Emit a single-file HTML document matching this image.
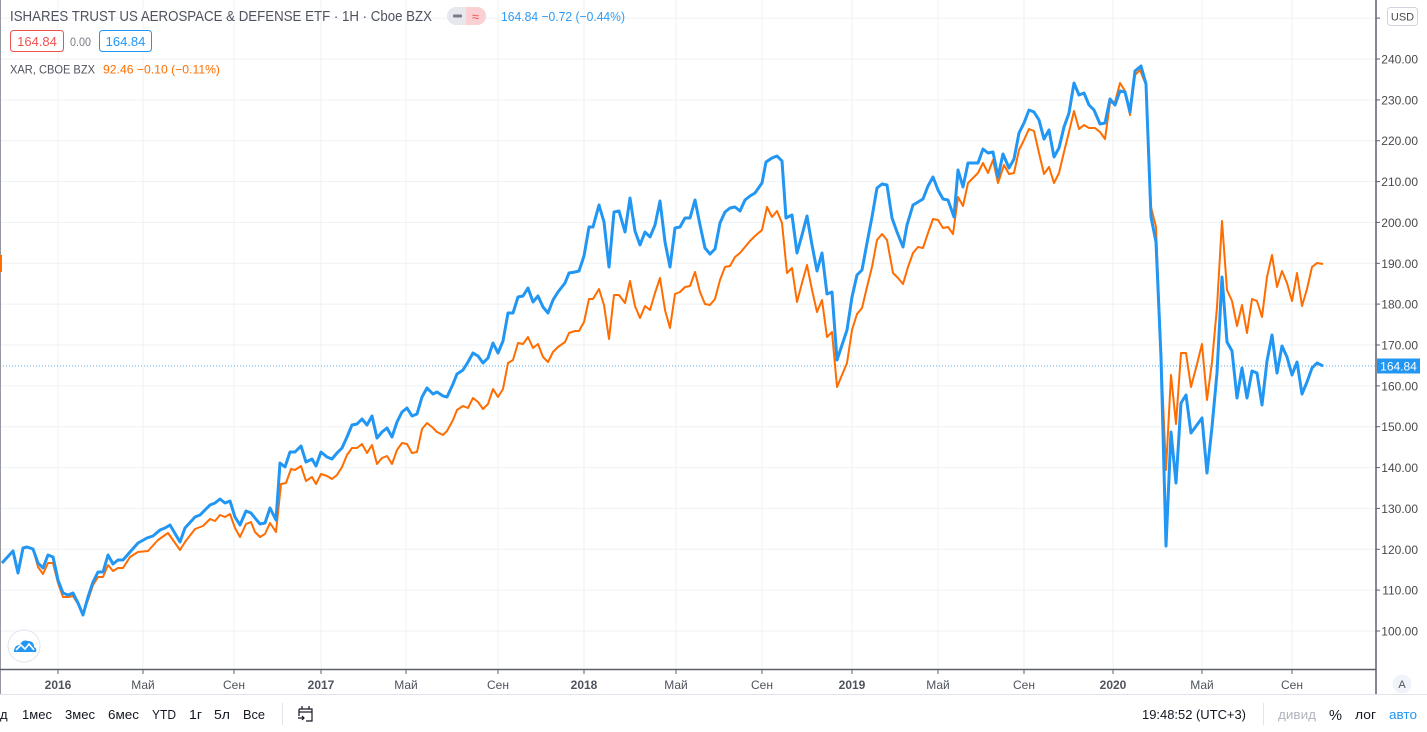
<!DOCTYPE html>
<html><head><meta charset="utf-8"><style>
html,body{margin:0;padding:0;background:#fff;}
svg{display:block;font-family:"Liberation Sans",sans-serif;}
</style></head><body>
<svg width="1427" height="732" viewBox="0 0 1427 732" xmlns="http://www.w3.org/2000/svg">
<rect x="0" y="0" width="1427" height="732" fill="#fff"/>
<!-- grid -->
<g stroke="#edf1f6" stroke-width="1">
<line x1="0" y1="18.1" x2="1376" y2="18.1"/>
<line x1="0" y1="59" x2="1376" y2="59"/>
<line x1="0" y1="99.9" x2="1376" y2="99.9"/>
<line x1="0" y1="140.7" x2="1376" y2="140.7"/>
<line x1="0" y1="181.6" x2="1376" y2="181.6"/>
<line x1="0" y1="222.4" x2="1376" y2="222.4"/>
<line x1="0" y1="263.3" x2="1376" y2="263.3"/>
<line x1="0" y1="304.1" x2="1376" y2="304.1"/>
<line x1="0" y1="345" x2="1376" y2="345"/>
<line x1="0" y1="385.9" x2="1376" y2="385.9"/>
<line x1="0" y1="426.7" x2="1376" y2="426.7"/>
<line x1="0" y1="467.6" x2="1376" y2="467.6"/>
<line x1="0" y1="508.4" x2="1376" y2="508.4"/>
<line x1="0" y1="549.3" x2="1376" y2="549.3"/>
<line x1="0" y1="590.1" x2="1376" y2="590.1"/>
<line x1="0" y1="631" x2="1376" y2="631"/>
<line x1="58" y1="0" x2="58" y2="669"/>
<line x1="143" y1="0" x2="143" y2="669"/>
<line x1="234" y1="0" x2="234" y2="669"/>
<line x1="321" y1="0" x2="321" y2="669"/>
<line x1="406" y1="0" x2="406" y2="669"/>
<line x1="498" y1="0" x2="498" y2="669"/>
<line x1="584" y1="0" x2="584" y2="669"/>
<line x1="676" y1="0" x2="676" y2="669"/>
<line x1="762" y1="0" x2="762" y2="669"/>
<line x1="852" y1="0" x2="852" y2="669"/>
<line x1="938" y1="0" x2="938" y2="669"/>
<line x1="1024" y1="0" x2="1024" y2="669"/>
<line x1="1113" y1="0" x2="1113" y2="669"/>
<line x1="1202" y1="0" x2="1202" y2="669"/>
<line x1="1292" y1="0" x2="1292" y2="669"/>
</g>
<!-- price line -->
<line x1="0" y1="366" x2="1376" y2="366" stroke="#2196f3" stroke-width="1" stroke-dasharray="1 2" opacity="0.8"/>
<!-- orange series -->
<polyline fill="none" stroke="#ff6d00" stroke-width="2" stroke-linejoin="round" points="2,563 13,551 18,570 23,548 27,547 33,549 38,567 43,574 48,563 53,563 58,583 63,597 68,597 73,596 78,604 83,613 88,600 93,585 98,577 103,577 108,565 113,571 118,568 123,568 130,557 138,552 148,551 158,540 168,533 180,550 185,542 195,529 203,526 210,519 215,521 220,515 225,517 230,514 235,528 240,537 246,524 251,522 255,532 260,537 265,534 270,523 276,532 281,484 286,483 291,469 295,470 301,466 306,481 312,477 316,484 321,474 327,476 332,479 337,475 342,467 347,455 352,448 357,448 362,444 367,453 372,445 377,464 382,458 387,456 392,464 397,450 402,443 407,444 412,453 417,452 422,429 427,423 432,427 437,432 443,435 447,431 453,420 457,410 463,406 468,408 473,398 478,402 483,409 488,404 493,389 498,397 503,389 508,363 513,360 518,343 523,344 528,337 533,348 538,344 543,357 548,362 553,352 558,347 565,342 569,333 575,331 579,331 584,322 589,299 593,299 599,289 604,305 609,339 614,295 619,295 625,303 630,281 635,306 640,318 645,306 650,310 655,293 660,278 665,310 670,328 675,294 680,292 685,287 690,286 695,272 700,292 705,304 710,305 715,299 720,280 725,267 730,266 735,257 740,253 745,247 750,241 755,236 762,230 767,207 772,217 777,211 782,223 787,273 792,268 797,302 802,283 807,265 812,290 817,312 822,300 827,337 832,332 837,387 842,375 847,363 852,330 857,314 862,308 867,287 872,267 877,240 882,234 887,240 893,273 898,278 903,284 908,267 913,253 918,247 923,248 928,233 933,219 938,220 943,228 948,227 953,234 958,197 963,206 968,183 973,178 978,173 983,163 988,173 993,160 998,183 1004,165 1009,174 1014,173 1019,150 1024,140 1029,129 1034,131 1039,153 1044,174 1049,167 1054,183 1059,173 1064,152 1069,132 1074,111 1079,129 1084,125 1089,128 1095,128 1100,132 1105,139 1110,103 1115,102 1120,83 1125,91 1130,115 1135,75 1140,70 1146,85 1151,207 1156,227 1161,355 1166,470 1171,375 1176,424 1181,353 1186,353 1191,387 1196,368 1202,344 1207,400 1212,362 1217,307 1222,221 1227,290 1232,301 1237,326 1242,305 1247,333 1252,299 1257,301 1262,317 1267,277 1272,255 1277,287 1282,271 1287,283 1292,301 1297,273 1302,306 1307,289 1312,267 1317,263 1323,264"/>
<!-- blue series -->
<polyline fill="none" stroke="#2196f3" stroke-width="3" stroke-linejoin="round" points="2,563 13,551 18,573 23,548 27,547 33,549 38,563 43,568 48,555 53,557 58,580 63,593 68,595 73,593 78,603 83,615 88,597 93,582 98,572 103,572 108,555 113,564 118,560 123,560 130,552 138,543 147,538 153,536 160,530 165,528 170,525 180,542 185,528 195,517 200,515 210,505 215,503 220,499 225,503 230,501 235,517 240,525 246,511 251,513 255,518 260,524 265,523 270,508 276,520 280,463 285,467 290,452 295,452 301,446 306,462 312,459 316,466 321,452 327,457 332,459 337,453 342,448 347,437 352,425 357,424 362,419 367,425 372,416 377,438 382,432 387,428 392,437 397,422 402,412 407,408 412,416 417,414 422,397 427,388 433,394 437,392 443,396 447,397 453,384 457,374 463,370 468,362 473,353 478,356 483,363 488,358 493,343 498,353 503,341 508,313 513,313 518,297 523,296 528,288 533,302 538,296 543,307 548,313 553,300 558,292 565,283 569,273 575,272 579,271 584,256 589,227 593,227 599,205 604,222 609,267 614,212 619,211 625,232 630,198 635,231 640,245 645,232 650,237 655,225 660,201 665,242 670,267 675,228 680,227 685,218 690,218 695,200 700,225 705,248 710,254 715,249 720,223 725,212 730,208 735,207 740,211 745,200 750,196 755,193 762,183 766,162 772,158 777,156 782,161 786,218 792,215 797,253 802,235 807,216 812,245 817,271 822,253 827,294 832,292 837,360 842,345 847,330 852,297 857,275 862,270 867,243 872,217 877,188 882,184 887,185 892,218 897,232 903,247 907,225 913,205 918,202 923,199 928,186 933,177 938,190 943,199 948,200 954,217 958,170 963,187 968,163 973,163 978,163 983,149 988,153 993,152 998,177 1003,154 1009,168 1014,159 1019,133 1024,123 1029,110 1034,112 1039,120 1044,139 1049,130 1054,157 1059,148 1064,127 1069,113 1074,83 1079,95 1084,93 1089,105 1094,110 1100,124 1105,123 1110,99 1115,105 1120,91 1125,92 1130,112 1135,71 1141,66 1146,84 1151,217 1156,242 1161,357 1166,546 1171,432 1176,483 1181,403 1186,395 1191,433 1202,418 1207,473 1212,427 1217,373 1222,277 1227,342 1232,351 1237,398 1242,368 1247,398 1252,371 1257,373 1262,405 1267,361 1272,335 1277,373 1282,346 1287,357 1292,375 1297,362 1302,394 1307,382 1312,368 1317,363 1323,366"/>
<!-- left border + marker -->
<line x1="0.5" y1="0" x2="0.5" y2="694" stroke="#9598a1" stroke-width="1"/>
<rect x="0" y="255" width="2" height="17" fill="#ff6d00"/>
<!-- axes -->
<line x1="0" y1="669.5" x2="1376" y2="669.5" stroke="#5d606b" stroke-width="1.5"/>
<line x1="1376" y1="0" x2="1376" y2="694" stroke="#5d606b" stroke-width="1.5"/>
<line x1="0" y1="694.5" x2="1427" y2="694.5" stroke="#e0e3eb" stroke-width="1"/>
<!-- time ticks -->
<g stroke="#5d606b" stroke-width="1">
<line x1="58" y1="669" x2="58" y2="674"/><line x1="143" y1="669" x2="143" y2="674"/><line x1="234" y1="669" x2="234" y2="674"/><line x1="321" y1="669" x2="321" y2="674"/><line x1="406" y1="669" x2="406" y2="674"/><line x1="498" y1="669" x2="498" y2="674"/><line x1="584" y1="669" x2="584" y2="674"/><line x1="676" y1="669" x2="676" y2="674"/><line x1="762" y1="669" x2="762" y2="674"/><line x1="852" y1="669" x2="852" y2="674"/><line x1="938" y1="669" x2="938" y2="674"/><line x1="1024" y1="669" x2="1024" y2="674"/><line x1="1113" y1="669" x2="1113" y2="674"/><line x1="1202" y1="669" x2="1202" y2="674"/><line x1="1292" y1="669" x2="1292" y2="674"/>
</g>
<g font-size="12" fill="#50535e" text-anchor="middle">
<text x="58" y="689" font-weight="bold">2016</text>
<text x="143" y="689">Май</text>
<text x="234" y="689">Сен</text>
<text x="321" y="689" font-weight="bold">2017</text>
<text x="406" y="689">Май</text>
<text x="498" y="689">Сен</text>
<text x="584" y="689" font-weight="bold">2018</text>
<text x="676" y="689">Май</text>
<text x="762" y="689">Сен</text>
<text x="852" y="689" font-weight="bold">2019</text>
<text x="938" y="689">Май</text>
<text x="1024" y="689">Сен</text>
<text x="1113" y="689" font-weight="bold">2020</text>
<text x="1202" y="689">Май</text>
<text x="1292" y="689">Сен</text>
</g>
<!-- price ticks -->
<g stroke="#5d606b" stroke-width="1">
<line x1="1376" y1="59" x2="1380" y2="59"/><line x1="1376" y1="99.9" x2="1380" y2="99.9"/><line x1="1376" y1="140.7" x2="1380" y2="140.7"/><line x1="1376" y1="181.6" x2="1380" y2="181.6"/><line x1="1376" y1="222.4" x2="1380" y2="222.4"/><line x1="1376" y1="263.3" x2="1380" y2="263.3"/><line x1="1376" y1="304.1" x2="1380" y2="304.1"/><line x1="1376" y1="345" x2="1380" y2="345"/><line x1="1376" y1="385.9" x2="1380" y2="385.9"/><line x1="1376" y1="426.7" x2="1380" y2="426.7"/><line x1="1376" y1="467.6" x2="1380" y2="467.6"/><line x1="1376" y1="508.4" x2="1380" y2="508.4"/><line x1="1376" y1="549.3" x2="1380" y2="549.3"/><line x1="1376" y1="590.1" x2="1380" y2="590.1"/><line x1="1376" y1="631" x2="1380" y2="631"/><line x1="1376" y1="18.1" x2="1380" y2="18.1"/>
</g>
<g font-size="12" fill="#4a4a4a" text-anchor="end">
<text x="1418" y="63.5">240.00</text>
<text x="1418" y="104.4">230.00</text>
<text x="1418" y="145.2">220.00</text>
<text x="1418" y="186.1">210.00</text>
<text x="1418" y="226.9">200.00</text>
<text x="1418" y="267.8">190.00</text>
<text x="1418" y="308.6">180.00</text>
<text x="1418" y="349.5">170.00</text>
<text x="1418" y="390.4">160.00</text>
<text x="1418" y="431.2">150.00</text>
<text x="1418" y="472.1">140.00</text>
<text x="1418" y="512.9">130.00</text>
<text x="1418" y="553.8">120.00</text>
<text x="1418" y="594.6">110.00</text>
<text x="1418" y="635.5">100.00</text>
</g>
<!-- current price label -->
<rect x="1377" y="358.5" width="43" height="15" fill="#2196f3"/>
<text x="1398.5" y="370.5" font-size="12" fill="#fff" text-anchor="middle">164.84</text>
<!-- USD -->
<rect x="1387.5" y="7.5" width="30" height="18" rx="3" fill="#fff" stroke="#d1d4dc"/>
<text x="1402.5" y="20.5" font-size="11" fill="#4a4a4a" text-anchor="middle">USD</text>
<!-- A circle -->
<circle cx="1402" cy="684" r="9.5" fill="#f0f3fa"/>
<text x="1402" y="688" font-size="11" fill="#50535e" text-anchor="middle">A</text>
<!-- header -->
<text x="10" y="21" font-size="15" fill="#50535e" textLength="422" lengthAdjust="spacingAndGlyphs">ISHARES TRUST US AEROSPACE &amp; DEFENSE ETF · 1H · Cboe BZX</text>
<rect x="447" y="7" width="39" height="18" rx="9" fill="#e6e8ee"/>
<path d="M466 7 H477 A9 9 0 0 1 477 25 H466 Z" fill="#fbd0d3"/>
<rect x="453" y="14.5" width="9" height="3" rx="1" fill="#787b86"/>
<text x="475.5" y="21" font-size="13" fill="#ef5350" text-anchor="middle">≈</text>
<text x="501" y="21" font-size="13" fill="#2f9bf3" textLength="124" lengthAdjust="spacingAndGlyphs">164.84 −0.72 (−0.44%)</text>
<rect x="10.5" y="30.5" width="53" height="21" rx="3" fill="#fff" stroke="#ef5350"/>
<text x="37" y="46" font-size="13" fill="#ef5350" text-anchor="middle">164.84</text>
<text x="70" y="46" font-size="12" fill="#787b86" textLength="21" lengthAdjust="spacingAndGlyphs">0.00</text>
<rect x="99.5" y="30.5" width="52" height="21" rx="3" fill="#fff" stroke="#2196f3"/>
<text x="125.5" y="46" font-size="13" fill="#2196f3" text-anchor="middle">164.84</text>
<text x="10" y="73.5" font-size="12" fill="#50535e" textLength="85" lengthAdjust="spacingAndGlyphs">XAR, CBOE BZX</text>
<text x="103" y="73.5" font-size="12" fill="#ff6d00" textLength="117" lengthAdjust="spacingAndGlyphs">92.46 −0.10 (−0.11%)</text>
<!-- logo -->
<circle cx="24" cy="646" r="16" fill="#fff" stroke="#e0e3eb" stroke-width="1"/>
<path d="M14 652 Q14 645 20 645 Q22 639 28 641 Q34 641 34 647 Q37 648 36 652 Z" fill="#2196f3"/>
<polyline points="16,650 21,645 25,649 29,644 34,650" fill="none" stroke="#fff" stroke-width="1.6"/>
<!-- bottom toolbar -->
<g font-size="13" fill="#131722">
<text x="0" y="719">д</text>
<text x="22" y="719" textLength="30" lengthAdjust="spacingAndGlyphs">1мес</text>
<text x="65" y="719" textLength="30" lengthAdjust="spacingAndGlyphs">3мес</text>
<text x="108" y="719" textLength="31" lengthAdjust="spacingAndGlyphs">6мес</text>
<text x="152" y="719" textLength="24" lengthAdjust="spacingAndGlyphs">YTD</text>
<text x="189" y="719" textLength="13" lengthAdjust="spacingAndGlyphs">1г</text>
<text x="214" y="719" textLength="16" lengthAdjust="spacingAndGlyphs">5л</text>
<text x="243" y="719" textLength="22" lengthAdjust="spacingAndGlyphs">Все</text>
<text x="1142" y="719" textLength="104" lengthAdjust="spacingAndGlyphs">19:48:52 (UTC+3)</text>
<text x="1278" y="719" fill="#b2b5be" textLength="38" lengthAdjust="spacingAndGlyphs">дивид</text>
<text x="1329" y="720" font-size="15" textLength="13" lengthAdjust="spacingAndGlyphs">%</text>
<text x="1355" y="719" textLength="21" lengthAdjust="spacingAndGlyphs">лог</text>
<text x="1389" y="719" fill="#2196f3" textLength="28" lengthAdjust="spacingAndGlyphs">авто</text>
</g>
<line x1="282.5" y1="703" x2="282.5" y2="725" stroke="#e0e3eb"/>
<line x1="1263.5" y1="703" x2="1263.5" y2="725" stroke="#e0e3eb"/>
<!-- calendar icon -->
<g fill="none" stroke="#131722" stroke-width="1.2">
<path d="M299 709 H312 V721 H306"/>
<path d="M299 709 V716"/>
<line x1="299" y1="712" x2="312" y2="712"/>
<line x1="302" y1="706" x2="302" y2="709"/>
<line x1="309" y1="706" x2="309" y2="709"/>
<path d="M298 718 H304 M302 716 L304 718 L302 720"/>
</g>
</svg>
</body></html>
